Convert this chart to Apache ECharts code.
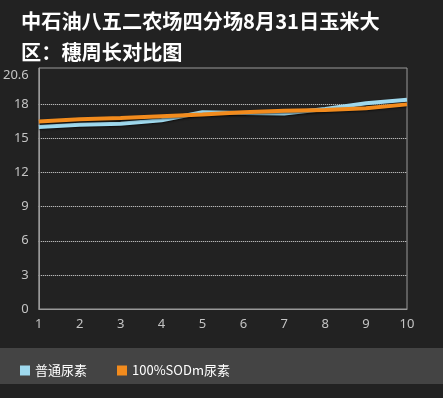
<!DOCTYPE html>
<html>
<head>
<meta charset="utf-8">
<script src="https://cdn.jsdelivr.net/npm/echarts@6/dist/echarts.min.js"></script>
<style>
  html, body { margin: 0; padding: 0; background: #222222; }
  #main { width: 443px; height: 398px; }
</style>
</head>
<body>
<div id="main"></div>
<script>
// chart data
var categories = ["1", "2", "3", "4", "5", "6", "7", "8", "9", "10"];
var seriesNames = ["普通尿素", "100%SODm尿素"];
var normalUrea = [16.0, 16.2, 16.3, 16.6, 17.3, 17.25, 17.2, 17.6, 18.1, 18.4];
var sodmUrea = [16.5, 16.7, 16.8, 16.95, 17.1, 17.3, 17.45, 17.5, 17.65, 18.0];
var yLabels = [0, 3, 6, 9, 12, 15, 18, 20.6];

var myChart = echarts.init(document.getElementById("main"));

// grid lines at 3..18 only: 0 sits on the axis line, 21 is hidden
var gridColors = ["transparent", "#dddddd", "#dddddd", "#dddddd", "#dddddd", "#dddddd", "#dddddd", "transparent"];

var option = {
  backgroundColor: "#222222",
  animation: false,
  title: {
    text: "中石油八五二农场四分场8月31日玉米大\n区：穗周长对比图",
    left: 16,
    top: 1,
    textStyle: {
      color: "#ffffff",
      fontSize: 20.2,
      fontWeight: "bold",
      lineHeight: 31,
      fontFamily: "Noto Sans CJK SC",
    },
  },
  graphic: [
    {
      // legend band
      type: "rect",
      left: 0,
      top: 348,
      z: -1,
      shape: { width: 443, height: 36 },
      style: { fill: "#444444" },
    },
  ],
  legend: {
    left: 15,
    top: 359,
    icon: "rect",
    itemWidth: 10,
    itemHeight: 10,
    itemGap: 30,
    data: seriesNames,
    textStyle: {
      color: "#ffffff",
      fontSize: 13,
      fontFamily: "Noto Sans CJK SC",
    },
  },
  grid: {
    left: 37,
    right: 36,
    top: 68,
    bottom: 89,
    show: true,
    borderColor: "#999999",
    borderWidth: 1,
  },
  xAxis: {
    type: "category",
    data: categories,
    boundaryGap: false,
    axisLine: { lineStyle: { color: "#999999" } },
    axisTick: { show: false },
    axisLabel: {
      color: "#c4c4c4",
      fontSize: 13,
      margin: 9,
      fontFamily: "Noto Sans",
    },
    splitLine: { show: false },
  },
  yAxis: {
    type: "value",
    min: 0,
    max: 21.2,
    interval: 3,
    axisLine: { show: true, lineStyle: { color: "#999999" } },
    axisTick: { show: false },
    axisLabel: {
      color: "#c4c4c4",
      fontSize: 13,
      margin: 10,
      fontFamily: "Noto Sans",
      customValues: yLabels,
    },
    splitLine: {
      show: true,
      lineStyle: { color: gridColors, type: "dotted", width: 1 },
    },
  },
  series: [
    {
      name: seriesNames[0],
      type: "line",
      data: normalUrea,
      symbol: "none",
      color: "#9fd9ee",
      lineStyle: {
        width: 4,
        shadowColor: "rgba(0,0,0,0.6)",
        shadowBlur: 2,
        shadowOffsetY: 1,
      },
    },
    {
      name: seriesNames[1],
      type: "line",
      data: sodmUrea,
      symbol: "none",
      color: "#f28b1d",
      lineStyle: {
        width: 4,
        shadowColor: "rgba(0,0,0,0.6)",
        shadowBlur: 2,
        shadowOffsetY: 1,
      },
    },
  ],
};

myChart.setOption(option);
</script>
</body>
</html>
